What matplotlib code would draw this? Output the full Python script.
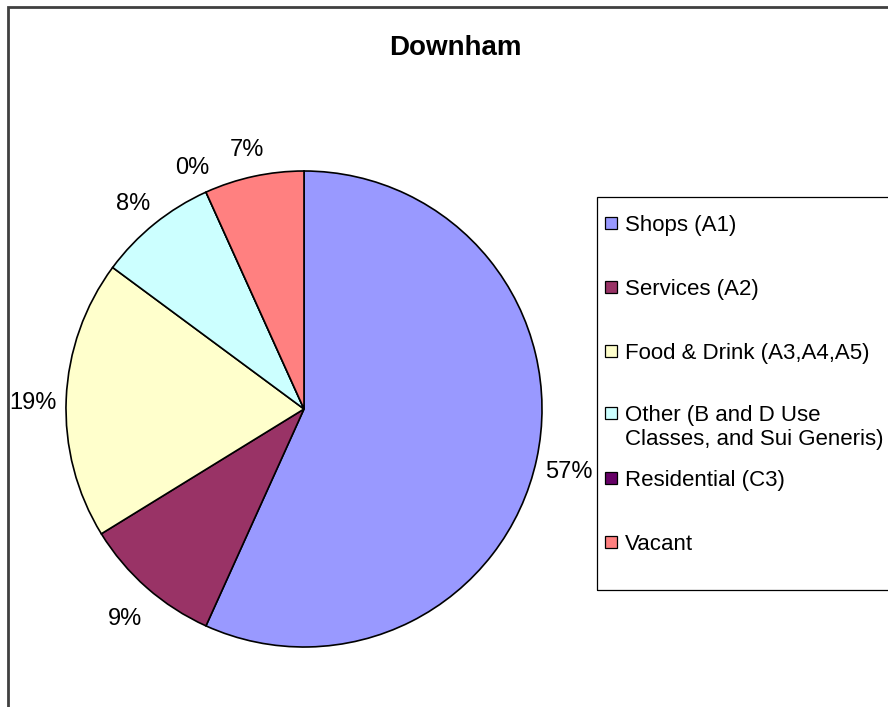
import matplotlib
matplotlib.use("Agg")
import matplotlib.pyplot as plt
from matplotlib.patches import Rectangle

plt.rcParams['font.family'] = ['Liberation Sans', 'DejaVu Sans']

# данные (число объектов по типу использования)
categories = ["Shops (A1)", "Services (A2)", "Food & Drink (A3,A4,A5)",
              "Other (B and D Use\nClasses, and Sui Generis)",
              "Residential (C3)", "Vacant"]
counts = [42, 7, 14, 6, 0, 5]
colors = ["#9999FF", "#993366", "#FFFFCC", "#CCFFFF", "#660066", "#FF8080"]
title = "Downham"

W, H = 888, 707
fig = plt.figure(figsize=(W / 100, H / 100), dpi=100)

# pie: centre (304, 409) px, radius 238 px
cx, cy, r = 304, 409, 238
ax = fig.add_axes([(cx - r) / W, (H - cy - r) / H, 2 * r / W, 2 * r / H])
wedges, texts, autotexts = ax.pie(
    counts, colors=colors, startangle=90, counterclock=False,
    autopct='%1.0f%%', pctdistance=1.14,
    wedgeprops=dict(edgecolor='black', linewidth=1.2),
    textprops=dict(fontsize=17, color='black'))
# подписи у Excel чуть ниже
for t in autotexts:
    x, y = t.get_position()
    t.set_position((x, y - 6 / r))
ax.set_xlim(-1, 1)
ax.set_ylim(-1, 1)
ax.set_aspect('equal')
ax.axis('off')

fig.text(455 / W, 1 - 55 / H, title, ha='center', va='baseline',
         fontsize=20, fontweight='bold')

# рамка графика (видны только верх и лево)
fig.add_artist(Rectangle((7.5 / W, -0.1), 1.2, (1 - 6.5 / H) + 0.1,
                         transform=fig.transFigure, fill=False,
                         edgecolor='#404040', linewidth=2))

# легенда
fig.add_artist(Rectangle((597 / W, 1 - 590 / H), 0.5, (590 - 197) / H,
                         transform=fig.transFigure, fill=False,
                         edgecolor='black', linewidth=0.9))
ys = [223, 287, 351, 413, 478, 542]
for lab, col, y in zip(categories, colors, ys):
    fig.add_artist(Rectangle((605 / W, 1 - (y + 6) / H), 12 / W, 12 / H,
                             transform=fig.transFigure, facecolor=col,
                             edgecolor='black', linewidth=0.9))
    lines = lab.split("\n")
    for i, t in enumerate(lines):
        fig.text(625 / W, 1 - (y + 8 + 24 * i) / H, t, ha='left',
                 va='baseline', fontsize=16)

fig.savefig("out.png", dpi=100, facecolor='white')
